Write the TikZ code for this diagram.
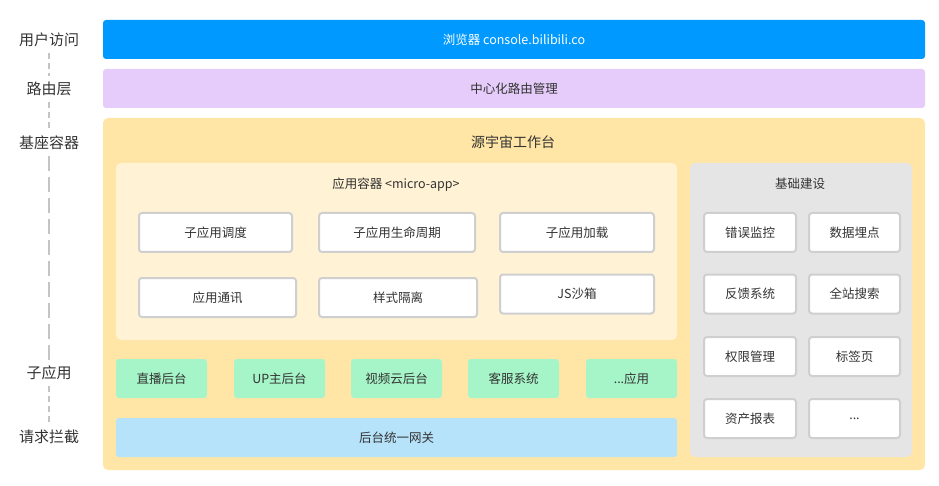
\documentclass[tikz,border=0pt]{standalone}
\usepackage{fontspec}
\setmainfont{Noto Sans CJK SC}
\definecolor{txt}{HTML}{333333}
\definecolor{cblue}{HTML}{0099FF}
\definecolor{cpurple}{HTML}{E6CCFA}
\definecolor{cyellow}{HTML}{FFE6A6}
\definecolor{cinner}{HTML}{FFF2D5}
\definecolor{cgray}{HTML}{E5E5E5}
\definecolor{cgreen}{HTML}{A6F5C8}
\definecolor{clblue}{HTML}{B6E2FA}
\definecolor{cborder}{HTML}{CFCFCF}
\definecolor{cdash}{HTML}{C4C4C4}
\begin{document}
\begin{tikzpicture}[x=1pt,y=-1pt,
  every node/.style={inner sep=0pt,outer sep=0pt,text=txt,font=\fontsize{12.5}{14}\selectfont},
  band/.style={rectangle,rounded corners=3pt,minimum height=39pt,minimum width=822pt},
  panel/.style={rectangle,rounded corners=5pt},
  wbox/.style={rectangle,rounded corners=3pt,fill=white,draw=cborder,line width=2pt,minimum height=39pt},
  gbox/.style={rectangle,rounded corners=3pt,fill=cgreen,minimum height=39pt,minimum width=91pt},
  side/.style={font=\fontsize{15}{17}\selectfont},
  dashshort/.style={draw=cdash,line width=2.5pt,dash pattern=on 6pt off 4pt,shorten <=6pt,shorten >=6pt},
  dashlong/.style={draw=cdash,line width=2.5pt,dash pattern=on 15pt off 6pt,shorten <=6pt,shorten >=6pt}
]
\useasboundingbox (0,0) rectangle (939,486);

% left labels
\node[side] (l1) at (49,40) {用户访问};
\node[side] (l2) at (49,89) {路由层};
\node[side] (l3) at (49,143) {基座容器};
\node[side] (l4) at (49,373) {子应用};
\node[side] (l5) at (49,437) {请求拦截};
\draw[dashshort] (l1.south) -- (l2.north);
\draw[dashshort] (l2.south) -- (l3.north);
\draw[dashlong] (l3.south) -- (l4.north);
\draw[dashshort] (l4.south) -- (l5.north);

% bands
\node[band,fill=cblue,text=white] (browser) at (514,39.5) {浏览器 console.bilibili.co};
\node[band,fill=cpurple] (router) at (514,88.5) {中心化路由管理};
\node[panel,fill=cyellow,minimum width=822pt,minimum height=352pt] (base) at (514,294) {};
\node[font=\fontsize{14}{16}\selectfont] (title) at (513,142) {源宇宙工作台};

% inner container
\node[panel,fill=cinner,minimum width=561pt,minimum height=177pt] (container) at (396.5,251.5) {};
\node (ctitle) at (396,185) {应用容器 <micro-app>};
\node[wbox,minimum width=153pt] (a1) at (215.5,232.5) {子应用调度};
\node[wbox,minimum width=156pt] (a2) at (397,232.5) {子应用生命周期};
\node[wbox,minimum width=154pt] (a3) at (577,232.5) {子应用加载};
\node[wbox,minimum width=157pt] (a4) at (217.5,297.5) {应用通讯};
\node[wbox,minimum width=158pt] (a5) at (398,297.5) {样式隔离};
\node[wbox,minimum width=154pt] (a6) at (577,294) {JS沙箱};

% sub apps
\node[gbox] (s1) at (161.5,378.5) {直播后台};
\node[gbox] (s2) at (279.5,378.5) {UP主后台};
\node[gbox] (s3) at (396.5,378.5) {视频云后台};
\node[gbox] (s4) at (513.5,378.5) {客服系统};
\node[gbox] (s5) at (631.5,378.5) {...应用};

% gateway
\node[rectangle,rounded corners=3pt,fill=clblue,minimum width=561pt,minimum height=39pt] (gw) at (396.5,437.5) {后台统一网关};

% infrastructure
\node[panel,fill=cgray,minimum width=222pt,minimum height=294pt] (infra) at (801,310) {};
\node (ititle) at (800,184) {基础建设};
\node[wbox,minimum width=92pt] (b1) at (750,232.5) {错误监控};
\node[wbox,minimum width=91pt] (b2) at (854.5,232.5) {数据埋点};
\node[wbox,minimum width=92pt] (b3) at (750,294) {反馈系统};
\node[wbox,minimum width=91pt] (b4) at (854.5,294) {全站搜索};
\node[wbox,minimum width=92pt] (b5) at (750,356.5) {权限管理};
\node[wbox,minimum width=91pt] (b6) at (854.5,356.5) {标签页};
\node[wbox,minimum width=92pt] (b7) at (750,418.5) {资产报表};
\node[wbox,minimum width=91pt] (b8) at (854.5,418.5) {...};
\end{tikzpicture}
\end{document}
